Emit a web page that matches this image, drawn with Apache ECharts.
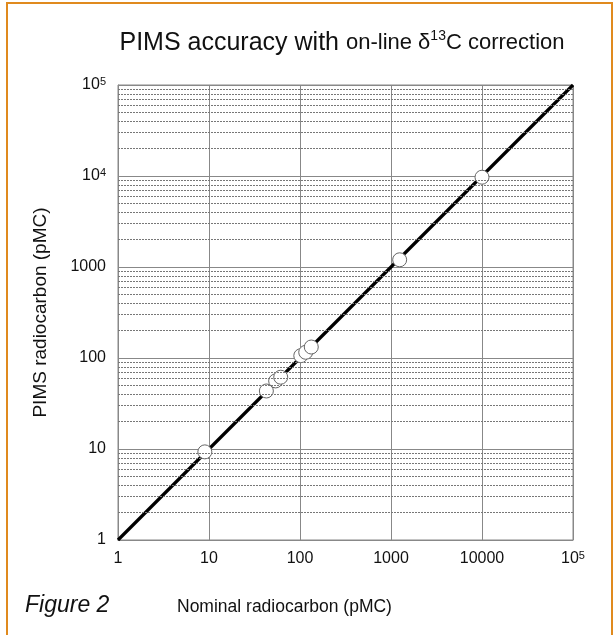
<!DOCTYPE html>
<html>
<head>
<meta charset="utf-8">
<script src="https://cdn.jsdelivr.net/npm/echarts@6/dist/echarts.min.js"></script>
<style>
html,body{margin:0;padding:0;background:#fff;}
#chart{width:616px;height:635px;}
</style>
</head>
<body>
<div id="chart"></div>
<script>
// ---- data ----
const nominal = [9.0, 42.7, 54, 61.4, 102, 115.6, 133, 1245, 10000];
const measured = [9.3, 43.4, 56, 61.5, 106, 115.6, 132, 1200, 9700];
const lineX = [1, 100000];
const lineY = [1, 100000];
const xTickLabels = ['1', '10', '100', '1000', '10000', '{b|10}{sup|5}'];
const yTickLabels = ['1', '10', '100', '1000', '{b|10}{sup|4}', '{b|10}{sup|5}'];
const minorGridValues = [2,3,4,5,6,7,8,9,20,30,40,50,60,70,80,90,200,300,400,500,600,700,800,900,
  2000,3000,4000,5000,6000,7000,8000,9000,20000,30000,40000,50000,60000,70000,80000,90000];

const FONT = '"Liberation Sans", Arial, sans-serif';

function decadeIndex(v){ return Math.round(Math.log10(v)); }
const richLab = {
  b: {fontSize: 16, fontFamily: FONT, color: '#111', lineHeight: 18},
  sup: {fontSize: 11, fontFamily: FONT, color: '#111', lineHeight: 8, verticalAlign: 'top'}
};

const chart = echarts.init(document.getElementById('chart'), null, {renderer: 'canvas'});
chart.setOption({
  backgroundColor: '#fff',
  animation: false,
  title: {
    text: '{a|PIMS accuracy with }{n|on-line δ}{s|13}{n|C correction}',
    left: 337, top: 24, textAlign: 'center',
    textStyle: {
      fontWeight: 'normal',
      rich: {
        a: {fontSize: 25, fontFamily: FONT, color: '#111', fontWeight: 'normal', lineHeight: 28},
        n: {fontSize: 22, fontFamily: FONT, color: '#111', fontWeight: 'normal', lineHeight: 28},
        s: {fontSize: 14, fontFamily: FONT, color: '#111', fontWeight: 'normal', lineHeight: 14, verticalAlign: 'top'}
      }
    }
  },
  grid: {left: 118, top: 85, width: 455, height: 455, show: true, borderColor: '#888', borderWidth: 1, containLabel: false},
  xAxis: {
    type: 'log', logBase: 10, min: 1, max: 100000,
    axisLine: {show: true, lineStyle: {color: '#888', width: 1}},
    axisTick: {show: false},
    splitLine: {show: true, lineStyle: {color: '#888', width: 1}},
    axisLabel: {
      margin: 10, color: '#111', fontSize: 16, fontFamily: FONT, lineHeight: 18,
      formatter: v => xTickLabels[decadeIndex(v)], rich: richLab
    }
  },
  yAxis: {
    type: 'log', logBase: 10, min: 1, max: 100000,
    name: 'PIMS radiocarbon (pMC)', nameLocation: 'middle', nameGap: 68, nameRotate: 90,
    nameTextStyle: {fontSize: 19, fontFamily: FONT, color: '#111'},
    axisLine: {show: true, lineStyle: {color: '#888', width: 1}},
    axisTick: {show: false},
    splitLine: {show: true, lineStyle: {color: '#888', width: 1}},
    axisLabel: {
      margin: 12, color: '#111', fontSize: 16, fontFamily: FONT, lineHeight: 18,
      formatter: v => yTickLabels[decadeIndex(v)], rich: richLab
    }
  },
  series: [
    {
      type: 'line', silent: true, symbol: 'none', z: 1,
      data: [],
      markLine: {
        silent: true, symbol: 'none', animation: false,
        label: {show: false},
        lineStyle: {color: '#777', width: 1, type: [2, 1]},
        data: minorGridValues.map(v => ({yAxis: v}))
      }
    },
    {
      type: 'line', symbol: 'none', z: 3,
      lineStyle: {color: '#000', width: 3.2},
      data: lineX.map((x, i) => [x, lineY[i]])
    },
    {
      type: 'scatter', z: 4, symbol: 'circle', symbolSize: 14,
      itemStyle: {color: '#fff', borderColor: '#666', borderWidth: 1, opacity: 1},
      data: nominal.map((x, i) => [x, measured[i]])
    }
  ],
  graphic: [
    {type: 'rect', shape: {x: 7, y: 3, width: 605, height: 640}, style: {fill: 'none', stroke: '#E08A1E', lineWidth: 2}, z: 100},
    {type: 'text', left: 25, top: 594, style: {text: 'Figure 2', fontSize: 23, fontStyle: 'italic', fontFamily: FONT, fill: '#111'}},
    {type: 'text', left: 177, top: 598, style: {text: 'Nominal radiocarbon (pMC)', fontSize: 17.5, fontFamily: FONT, fill: '#111'}}
  ]
});
</script>
</body>
</html>
